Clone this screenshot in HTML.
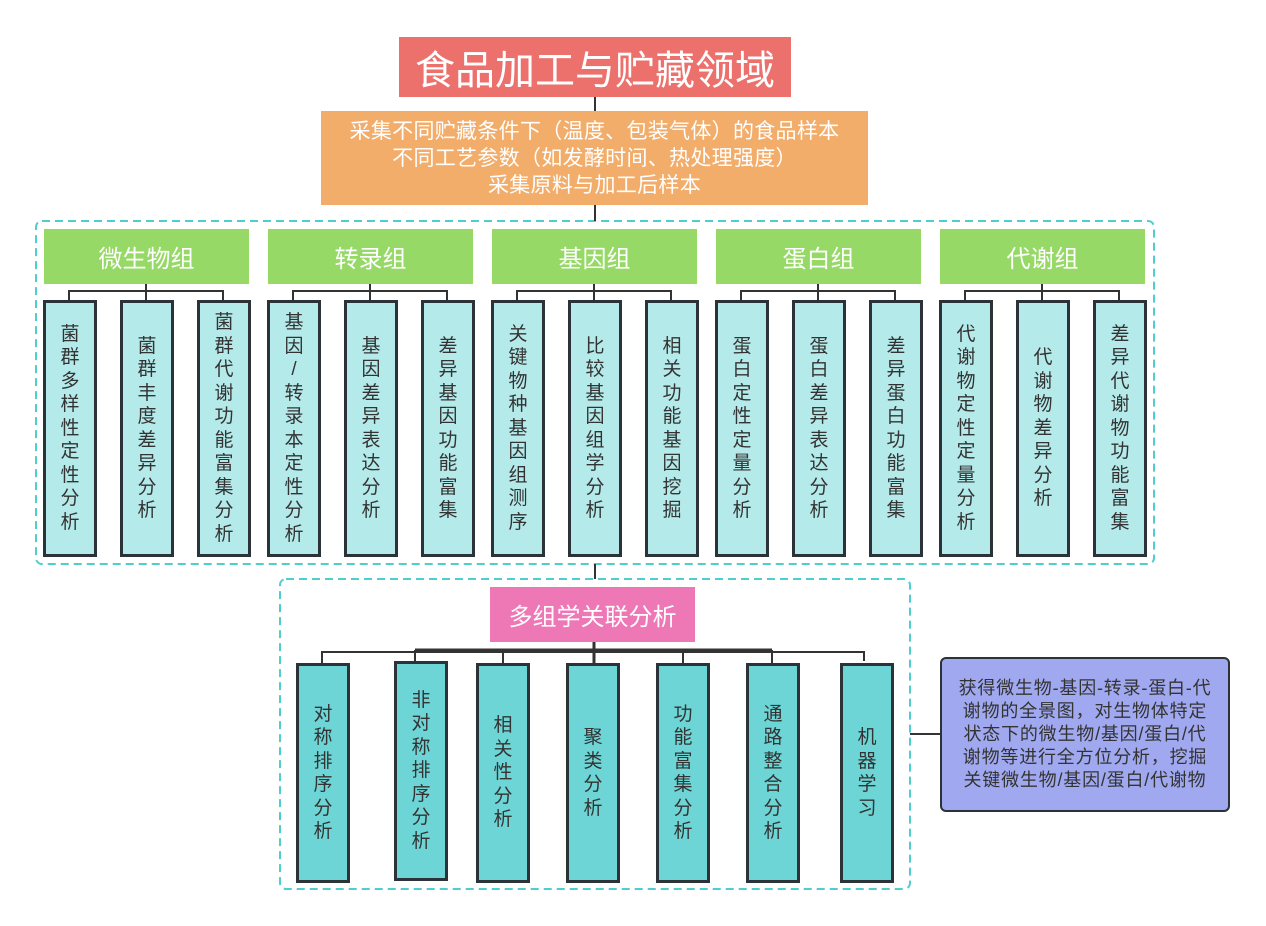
<!DOCTYPE html>
<html><head><meta charset="utf-8"><style>
body{margin:0;width:1266px;height:926px;background:#fff;position:relative;overflow:hidden;font-family:"Liberation Sans","Noto Sans CJK SC",sans-serif}
.a{position:absolute;box-sizing:border-box}
.c{display:flex;align-items:center;justify-content:center;text-align:center;color:#fff}
.v{border:3px solid #2b3238;background:#b5eaea;color:#333;font-size:19px;display:flex;align-items:center;justify-content:center}
.v span{width:19px;line-height:23.5px;word-break:break-all;text-align:center}
.b{background:#6dd5d5}
.g{background:#96d966;font-size:24px;top:229px;height:55px;width:205px}
</style></head><body>
<svg class="a" style="left:0;top:0" width="1266" height="926">
<g stroke="#4ecece" stroke-width="2" fill="none" stroke-dasharray="8,5">
<rect x="36" y="221" width="1118" height="343" rx="6"/>
<rect x="280" y="579" width="630" height="310" rx="6"/>
</g>
<g stroke="#333" stroke-width="2" fill="none">
<line x1="595" y1="97" x2="595" y2="111"/>
<line x1="595" y1="205" x2="595" y2="221"/>
<line x1="595" y1="564" x2="595" y2="579"/>
<g id="gr">
<polyline points="69,300 69,291 223,291 223,300"/><line x1="146" y1="283" x2="146" y2="300"/>
</g>
<use href="#gr" x="224"/><use href="#gr" x="448"/><use href="#gr" x="672"/><use href="#gr" x="896"/>
<line x1="594" y1="641" x2="594" y2="663" stroke-width="3"/>
<polyline points="322,663 322,652 864,652 864,661"/>
<line x1="415" y1="650" x2="772" y2="650" stroke-width="3"/>
<line x1="415" y1="650" x2="415" y2="661"/>
<line x1="503" y1="652" x2="503" y2="663"/>
<line x1="683" y1="652" x2="683" y2="663"/>
<line x1="772" y1="650" x2="772" y2="663"/>
<line x1="910" y1="734" x2="940" y2="734"/>
</g>
</svg>
<div class="a c" style="left:399px;top:37px;width:392px;height:60px;background:#ec706c;font-size:40px">食品加工与贮藏领域</div>
<div class="a c" style="left:321px;top:111px;width:547px;height:94px;background:#f2ad6a;font-size:21px;line-height:27px;letter-spacing:0.3px">采集不同贮藏条件下（温度、包装气体）的食品样本<br>不同工艺参数（如发酵时间、热处理强度）<br>采集原料与加工后样本</div>
<div class="a c g" style="left:44px">微生物组</div>
<div class="a c g" style="left:268px">转录组</div>
<div class="a c g" style="left:492px">基因组</div>
<div class="a c g" style="left:716px">蛋白组</div>
<div class="a c g" style="left:940px">代谢组</div>

<div class="a v" style="left:43px;top:300px;width:54px;height:257px"><span>菌群多样性定性分析</span></div>
<div class="a v" style="left:120px;top:300px;width:54px;height:257px"><span>菌群丰度差异分析</span></div>
<div class="a v" style="left:197px;top:300px;width:54px;height:257px"><span>菌群代谢功能富集分析</span></div>
<div class="a v" style="left:267px;top:300px;width:54px;height:257px"><span>基因<br>/<br>转录本定性分析</span></div>
<div class="a v" style="left:344px;top:300px;width:54px;height:257px"><span>基因差异表达分析</span></div>
<div class="a v" style="left:421px;top:300px;width:54px;height:257px"><span>差异基因功能富集</span></div>
<div class="a v" style="left:491px;top:300px;width:54px;height:257px"><span>关键物种基因组测序</span></div>
<div class="a v" style="left:568px;top:300px;width:54px;height:257px"><span>比较基因组学分析</span></div>
<div class="a v" style="left:645px;top:300px;width:54px;height:257px"><span>相关功能基因挖掘</span></div>
<div class="a v" style="left:715px;top:300px;width:54px;height:257px"><span>蛋白定性定量分析</span></div>
<div class="a v" style="left:792px;top:300px;width:54px;height:257px"><span>蛋白差异表达分析</span></div>
<div class="a v" style="left:869px;top:300px;width:54px;height:257px"><span>差异蛋白功能富集</span></div>
<div class="a v" style="left:939px;top:300px;width:54px;height:257px"><span>代谢物定性定量分析</span></div>
<div class="a v" style="left:1016px;top:300px;width:54px;height:257px"><span>代谢物差异分析</span></div>
<div class="a v" style="left:1093px;top:300px;width:54px;height:257px"><span>差异代谢物功能富集</span></div>

<div class="a c" style="left:490px;top:587px;width:205px;height:55px;background:#ee77b6;font-size:24px">多组学关联分析</div>
<div class="a v b" style="left:296px;top:663px;width:54px;height:220px"><span>对称排序分析</span></div>
<div class="a v b" style="left:394px;top:661px;width:54px;height:220px"><span>非对称排序分析</span></div>
<div class="a v b" style="left:476px;top:663px;width:54px;height:220px"><span>相关性分析</span></div>
<div class="a v b" style="left:566px;top:663px;width:54px;height:220px"><span>聚类分析</span></div>
<div class="a v b" style="left:656px;top:663px;width:54px;height:220px"><span>功能富集分析</span></div>
<div class="a v b" style="left:746px;top:663px;width:54px;height:220px"><span>通路整合分析</span></div>
<div class="a v b" style="left:840px;top:663px;width:54px;height:220px"><span>机器学习</span></div>

<div class="a c" style="left:940px;top:657px;width:290px;height:155px;background:#a0a8ef;border:2px solid #2b3238;border-radius:6px;color:#333;font-size:18px;line-height:23px;white-space:nowrap;letter-spacing:0.8px">获得微生物-基因-转录-蛋白-代<br>谢物的全景图，对生物体特定<br>状态下的微生物/基因/蛋白/代<br>谢物等进行全方位分析，挖掘<br>关键微生物/基因/蛋白/代谢物</div>
</body></html>
